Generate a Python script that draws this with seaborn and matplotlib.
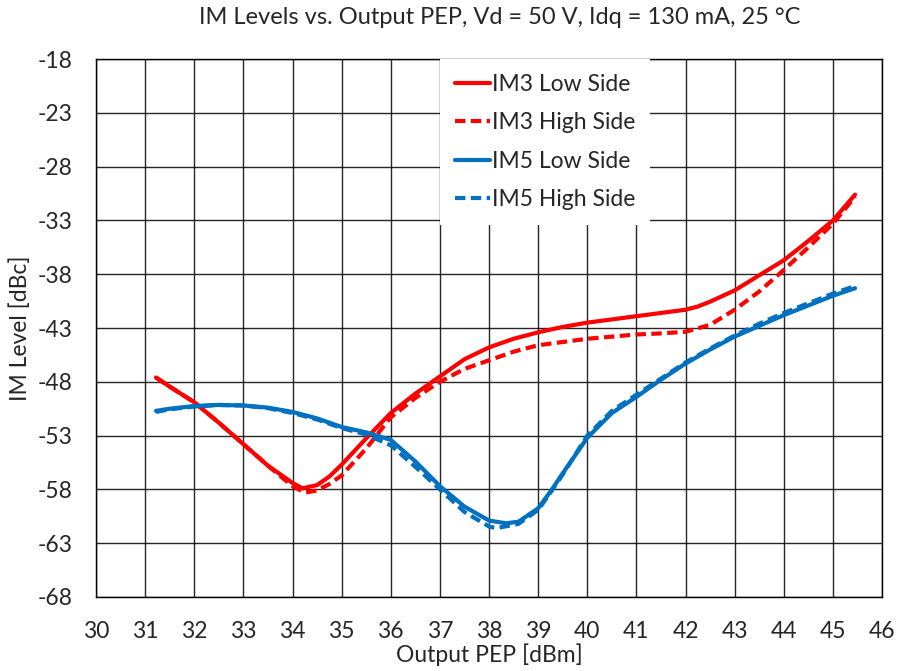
import numpy as np
import pandas as pd
import matplotlib
matplotlib.use("Agg")
import matplotlib.pyplot as plt
import seaborn as sns

# values
im3_low_x = [31.22, 31.5, 32.0, 32.5, 33.0, 33.5, 34.0, 34.2, 34.5, 34.75, 35.0, 35.5, 36.0, 36.5, 37.0, 37.5,
             38.0, 38.5, 39.0, 39.5, 40.0, 40.5, 41.0, 41.5, 42.0, 42.25, 42.5, 43.0, 43.5, 44.0, 44.5, 45.0, 45.45]
im3_low_y = [-47.6, -48.45, -49.9, -51.8, -53.8, -55.8, -57.4, -57.9, -57.6, -56.8, -55.7, -53.25, -50.9, -49.1, -47.5, -45.9,
             -44.8, -44.0, -43.4, -42.9, -42.5, -42.2, -41.9, -41.6, -41.3, -41.0, -40.55, -39.5, -38.1, -36.7, -34.9, -33.0, -30.6]

im3_high_x = [31.22, 31.5, 32.0, 32.5, 33.0, 33.5, 34.0, 34.25, 34.5, 34.75, 35.0, 35.5, 36.0, 36.5, 37.0, 37.5,
              38.0, 38.5, 39.0, 39.5, 40.0, 40.5, 41.0, 41.5, 42.0, 42.5, 43.0, 43.5, 44.0, 44.5, 45.0, 45.45]
im3_high_y = [-47.6, -48.45, -49.9, -51.8, -53.8, -55.8, -57.7, -58.3, -58.1, -57.5, -56.7, -54.2, -51.3, -49.5, -48.0, -46.8,
              -46.0, -45.2, -44.6, -44.3, -44.0, -43.8, -43.6, -43.5, -43.35, -42.7, -41.3, -39.6, -37.6, -35.5, -33.3, -30.8]

im5_low_x = [31.22, 31.5, 32.0, 32.5, 33.0, 33.5, 34.0, 34.5, 35.0, 35.5, 36.0, 36.5, 37.0, 37.5, 38.0, 38.35,
             38.6, 39.0, 39.25, 39.5, 40.0, 40.5, 41.0, 41.5, 42.0, 42.5, 43.0, 43.5, 44.0, 44.5, 45.0, 45.45]
im5_low_y = [-50.7, -50.5, -50.25, -50.15, -50.2, -50.4, -50.8, -51.4, -52.2, -52.7, -53.4, -55.4, -57.7, -59.6, -60.9, -61.15,
             -61.0, -59.75, -58.2, -56.5, -53.2, -50.9, -49.4, -47.8, -46.3, -45.0, -43.8, -42.8, -41.8, -40.9, -40.0, -39.3]

im5_high_x = [31.22, 31.5, 32.0, 32.5, 33.0, 33.5, 34.0, 34.5, 35.0, 35.5, 36.0, 36.5, 37.0, 37.5, 38.0, 38.15,
              38.6, 39.0, 39.25, 39.5, 40.0, 40.5, 41.0, 41.5, 42.0, 42.5, 43.0, 43.5, 44.0, 44.5, 45.0, 45.45]
im5_high_y = [-50.8, -50.55, -50.3, -50.15, -50.2, -50.45, -50.9, -51.5, -52.3, -52.9, -53.9, -55.9, -58.0, -60.1, -61.45, -61.6,
              -61.2, -59.9, -58.3, -56.6, -53.0, -50.7, -49.2, -47.7, -46.2, -44.9, -43.7, -42.6, -41.6, -40.7, -39.8, -39.1]

series_names = ["IM3 Low Side", "IM3 High Side", "IM5 Low Side", "IM5 High Side"]
series_colors = ["#FF0000", "#FF0000", "#0070C0", "#0070C0"]

x_ticks = list(range(30, 47))
y_ticks = list(range(-68, -17, 5))

def build_df():
    frames = []
    for name, xs, ys in zip(series_names,
                            [im3_low_x, im3_high_x, im5_low_x, im5_high_x],
                            [im3_low_y, im3_high_y, im5_low_y, im5_high_y]):
        frames.append(pd.DataFrame({"x": xs, "y": ys, "series": name}))
    return pd.concat(frames, ignore_index=True)

if __name__ == "__main__":
    sns.set_style("white")
    plt.rcParams['font.family'] = ['Lato', 'DejaVu Sans']
    plt.rcParams['axes.unicode_minus'] = False

    df = build_df()

    fig = plt.figure(figsize=(9.01, 6.71), dpi=100)
    ax = fig.add_axes([0.1066, 0.1103, 0.8724, 0.8017])

    dash_map = {"IM3 Low Side": "", "IM3 High Side": (2.5, 1.3),
                "IM5 Low Side": "", "IM5 High Side": (2.5, 1.3)}
    sns.lineplot(data=df, x="x", y="y", hue="series", style="series",
                 hue_order=series_names, style_order=series_names,
                 palette=dict(zip(series_names, series_colors)),
                 dashes=dash_map, linewidth=3, sort=False, ax=ax, zorder=3)

    ax.set_xlim(30, 46)
    ax.set_ylim(-68, -18)
    ax.set_xticks(x_ticks)
    ax.set_yticks(y_ticks)
    ax.grid(True, color="#000000", linewidth=1.0, alpha=0.85)
    ax.set_axisbelow(True)
    for sp in ax.spines.values():
        sp.set_color("black")
        sp.set_linewidth(1.0)
    ax.tick_params(axis="both", length=0, labelsize=16.5)
    ax.tick_params(axis="y", pad=17)
    ax.tick_params(axis="x", pad=17)

    ax.set_xlabel("Output PEP [dBm]", fontsize=16.5, labelpad=1)
    ax.set_ylabel("IM Level [dBc]", fontsize=16.5)
    ax.yaxis.set_label_coords(-0.083, 0.5)
    ax.set_title("IM Levels vs. Output PEP, Vd = 50 V, Idq = 130 mA, 25 °C",
                 fontsize=17, pad=25, x=0.514)

    leg = ax.legend(loc="upper left", bbox_to_anchor=(0.4375, 1.0), fontsize=16.5,
                    frameon=True, fancybox=False, framealpha=1.0,
                    handlelength=1.55, handletextpad=0.06, labelspacing=0.76,
                    borderpad=0.65, borderaxespad=0.0)
    leg.get_frame().set_facecolor("white")
    leg.get_frame().set_edgecolor("none")
    leg.set_zorder(5)

    fig.savefig("out.png", dpi=100)
